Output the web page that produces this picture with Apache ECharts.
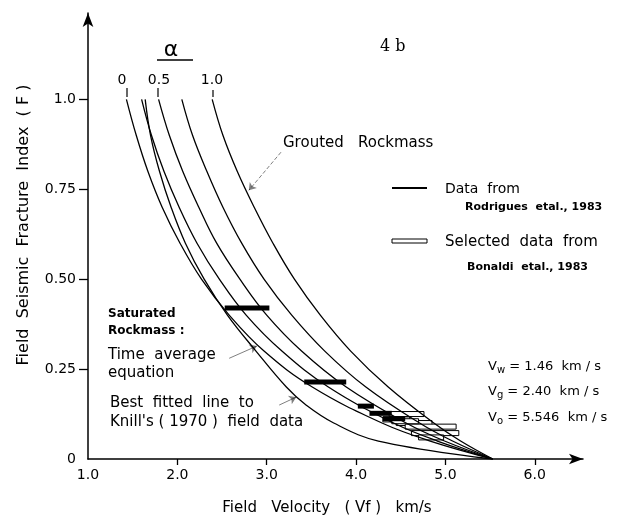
<!DOCTYPE html>
<html lang="en">
<head>
<meta charset="UTF-8">
<title>Field seismic fracture index</title>
<script src="https://cdn.jsdelivr.net/npm/echarts@6/dist/echarts.min.js"></script>
<style>
  html, body { margin: 0; padding: 0; background: #fff; }
  #main { width: 620px; height: 519px; }
</style>
</head>
<body>
<div id="main"></div>
<script type="text/javascript">
var fLevels = [1, 0.9, 0.8, 0.7, 0.6, 0.5, 0.4, 0.3, 0.2, 0.1, 0.05, 0];
// velocities (km/s) of the alpha curves at those F levels
var vAlpha0   = [1.43, 1.54, 1.67, 1.83, 2.03, 2.27, 2.58, 2.97, 3.51, 4.29, 4.83, 5.53];
var vAlpha025 = [1.60, 1.71, 1.85, 2.02, 2.22, 2.47, 2.77, 3.17, 3.69, 4.42, 4.91, 5.53];
var vAlpha05  = [1.79, 1.91, 2.06, 2.24, 2.44, 2.70, 3.00, 3.39, 3.89, 4.56, 4.99, 5.53];
var vAlpha075 = [2.05, 2.17, 2.33, 2.51, 2.72, 2.97, 3.28, 3.65, 4.11, 4.71, 5.08, 5.53];
var vAlpha1   = [2.39, 2.51, 2.67, 2.86, 3.07, 3.31, 3.60, 3.94, 4.36, 4.87, 5.17, 5.53];
// best fitted line to Knill's field data
var fKnill = [1, 0.9, 0.8, 0.7, 0.6, 0.5, 0.4, 0.3, 0.2, 0.15, 0.1, 0.05, 0];
var vKnill = [1.64, 1.70, 1.80, 1.93, 2.09, 2.30, 2.56, 2.88, 3.22, 3.44, 3.75, 4.25, 5.53];

// [v from, v to, F]
var rodriguesBars = [[2.53, 3.03, 0.42], [3.42, 3.89, 0.214], [4.02, 4.20, 0.147], [4.15, 4.40, 0.127], [4.30, 4.55, 0.112]];
var bonaldiBars = [[4.37, 4.76, 0.125], [4.30, 4.60, 0.110], [4.45, 4.85, 0.100], [4.55, 5.12, 0.090],
                   [4.62, 5.15, 0.072], [4.70, 4.98, 0.060], [4.40, 4.70, 0.105]];

var xTickLabels = ['1.0', '2.0', '3.0', '4.0', '5.0', '6.0'];
var yTickValues = [0, 0.25, 0.5, 0.75, 1];
var yTickLabels = ['0', '0.25', '0.50', '0.75', '1.0'];

var FONT = '"DejaVu Sans", sans-serif';

function pairs(vs, fs) {
    var out = [];
    for (var i = 0; i < vs.length; i++) out.push([vs[i], fs[i]]);
    return out;
}

function curve(name, vs, fs) {
    return {
        name: name, type: 'line', data: pairs(vs, fs), smooth: 0.4,
        showSymbol: false, silent: true,
        lineStyle: { color: '#000', width: 1.3 }
    };
}

function barSeries(name, data, hollow) {
    return {
        name: name, type: 'custom', data: data, silent: true,
        encode: { x: [0, 1], y: 2 },
        renderItem: function (params, api) {
            var a = api.coord([api.value(0), api.value(2)]);
            var b = api.coord([api.value(1), api.value(2)]);
            return {
                type: 'rect',
                shape: { x: a[0], y: a[1] - 2.5, width: b[0] - a[0], height: 5 },
                style: hollow ? { fill: '#fff', stroke: '#000', lineWidth: 1 } : { fill: '#000' }
            };
        }
    };
}

function arrow(from, to, dashed) {
    return {
        type: 'lines', coordinateSystem: 'cartesian2d', silent: true,
        symbol: ['none', 'arrow'], symbolSize: 7,
        lineStyle: { color: '#000', width: 1, type: dashed ? 'dashed' : 'solid' },
        data: [{ coords: [from, to] }]
    };
}

function txt(x, y, text, size, extra) {
    var st = { text: text, x: x, y: y, fill: '#000', font: size + 'px ' + FONT, verticalAlign: 'middle' };
    for (var k in extra) st[k] = extra[k];
    return { type: 'text', style: st, z: 10 };
}

function subText(y, sub, rest) {
    return {
        type: 'text', z: 10, style: {
            x: 488, y: y, verticalAlign: 'middle', fill: '#000',
            text: '{m|V}{s|' + sub + '}{m|' + rest + '}',
            rich: { m: { fontSize: 13, fontFamily: FONT }, s: { fontSize: 10, fontFamily: FONT, padding: [6, 0, 0, 0] } }
        }
    };
}

var chart = echarts.init(document.getElementById('main'));

var option = {
    animation: false,
    backgroundColor: '#fff',
    grid: { left: 88, right: 37, top: 13, bottom: 60 },
    xAxis: {
        type: 'value', min: 1, max: 6.54, interval: 1,
        splitLine: { show: false },
        axisLine: { lineStyle: { color: '#000', width: 1.5 }, symbol: ['none', 'arrow'], symbolSize: [8, 14] },
        axisTick: { customValues: [2, 3, 4, 5, 6], length: 6, lineStyle: { color: '#000', width: 1.3 } },
        axisLabel: {
            customValues: [1, 2, 3, 4, 5, 6], margin: 9, color: '#000', fontSize: 14, fontFamily: FONT,
            formatter: function (v) { return xTickLabels[Math.round(v) - 1]; }
        }
    },
    yAxis: {
        type: 'value', min: 0, max: 1.24, interval: 0.25,
        splitLine: { show: false },
        axisLine: { lineStyle: { color: '#000', width: 1.5 }, symbol: ['none', 'arrow'], symbolSize: [8, 14] },
        axisTick: { customValues: [0.25, 0.5, 0.75, 1], length: 9, lineStyle: { color: '#000', width: 1.3 } },
        axisLabel: {
            customValues: yTickValues, margin: 12, color: '#000', fontSize: 14, fontFamily: FONT,
            formatter: function (v) { return yTickLabels[yTickValues.indexOf(v)]; }
        }
    },
    series: [
        curve('alpha 0', vAlpha0, fLevels),
        curve('alpha 0.25', vAlpha025, fLevels),
        curve('alpha 0.5', vAlpha05, fLevels),
        curve('alpha 0.75', vAlpha075, fLevels),
        curve('alpha 1.0', vAlpha1, fLevels),
        curve('Knill', vKnill, fKnill),
        barSeries('Bonaldi', bonaldiBars, true),
        barSeries('Rodrigues', rodriguesBars, false),
        arrow([3.16, 0.853], [2.80, 0.747], true),
        arrow([2.58, 0.28], [2.89, 0.314], false),
        arrow([3.14, 0.15], [3.33, 0.172], false)
    ],
    graphic: [
        {
            type: 'text', z: 10, x: 24, y: 225, rotation: Math.PI / 2,
            style: { text: 'Field  Seismic  Fracture  Index  ( F )', x: 0, y: 0, align: 'center', verticalAlign: 'middle',
                     fill: '#000', font: '16px ' + FONT }
        },
        txt(380, 47, '4 b', 16, { font: '16px "DejaVu Serif", serif' }),
        txt(171, 50, 'α', 22, { align: 'center' }),
        { type: 'line', shape: { x1: 157, y1: 60, x2: 193, y2: 60 }, style: { stroke: '#000', lineWidth: 1.5 } },
        txt(122, 80, '0', 14, { align: 'center' }),
        txt(159, 80, '0.5', 14, { align: 'center' }),
        txt(212, 80, '1.0', 14, { align: 'center' }),
        { type: 'line', shape: { x1: 127, y1: 88, x2: 127, y2: 97 }, style: { stroke: '#000', lineWidth: 1.2 } },
        { type: 'line', shape: { x1: 158, y1: 88, x2: 158, y2: 97 }, style: { stroke: '#000', lineWidth: 1.2 } },
        { type: 'line', shape: { x1: 213, y1: 90, x2: 213, y2: 97 }, style: { stroke: '#000', lineWidth: 1.2 } },
        txt(283, 143, 'Grouted   Rockmass', 15, {}),
        { type: 'line', shape: { x1: 392, y1: 188, x2: 427, y2: 188 }, style: { stroke: '#000', lineWidth: 2 } },
        txt(445, 189, 'Data  from', 14, {}),
        txt(465, 207, 'Rodrigues  etal., 1983', 11, { font: 'bold 11px ' + FONT }),
        { type: 'rect', shape: { x: 392, y: 239, width: 35, height: 4 }, style: { fill: '#fff', stroke: '#000', lineWidth: 1 } },
        txt(445, 242, 'Selected  data  from', 15, {}),
        txt(467, 267, 'Bonaldi  etal., 1983', 11, { font: 'bold 11px ' + FONT }),
        txt(108, 314, 'Saturated', 12, { font: 'bold 12px ' + FONT }),
        txt(108, 331, 'Rockmass :', 12, { font: 'bold 12px ' + FONT }),
        txt(108, 355, 'Time  average', 15, {}),
        txt(108, 373, 'equation', 15, {}),
        txt(110, 403, 'Best  fitted  line  to', 15, {}),
        txt(110, 422, "Knill's ( 1970 )  field  data", 15, {}),
        subText(367, 'w', ' = 1.46  km / s'),
        subText(392, 'g', ' = 2.40  km / s'),
        subText(418, 'o', ' = 5.546  km / s'),
        txt(327, 508, 'Field   Velocity   ( Vf )   km/s', 15, { align: 'center' })
    ]
};

chart.setOption(option);
</script>
</body>
</html>
